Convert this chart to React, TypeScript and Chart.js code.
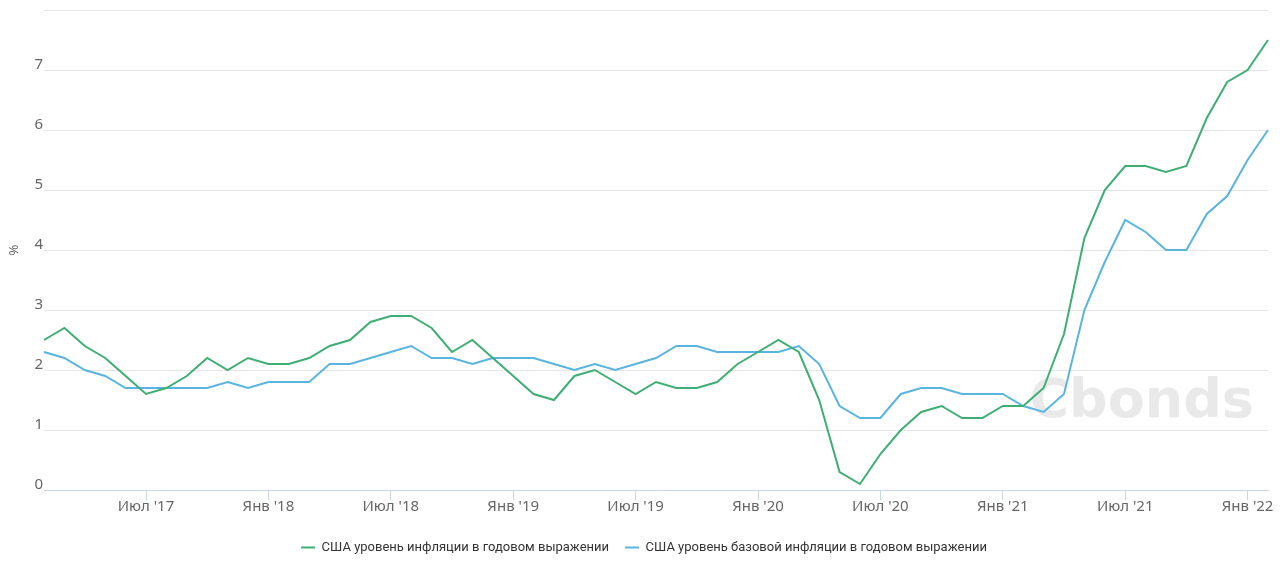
import React, { useEffect, useRef } from "react";
import { Chart, registerables } from "chart.js";

Chart.register(...registerables);

const MONTHS = ["Янв", "Фев", "Мар", "Апр", "Май", "Июн", "Июл", "Авг", "Сен", "Окт", "Ноя", "Дек"];

// Monthly observations plotted Feb 2017 .. Feb 2022
const categories: string[] = [];
for (let i = 0; i < 61; i++) {
  const m = (1 + i) % 12;
  const y = 17 + Math.floor((1 + i) / 12);
  categories.push(`${MONTHS[m]} '${y}`);
}

const headlineCPI = [
  2.5, 2.7, 2.4, 2.2, 1.9, 1.6, 1.7, 1.9, 2.2, 2.0, 2.2, 2.1,
  2.1, 2.2, 2.4, 2.5, 2.8, 2.9, 2.9, 2.7, 2.3, 2.5, 2.2, 1.9,
  1.6, 1.5, 1.9, 2.0, 1.8, 1.6, 1.8, 1.7, 1.7, 1.8, 2.1, 2.3,
  2.5, 2.3, 1.5, 0.3, 0.1, 0.6, 1.0, 1.3, 1.4, 1.2, 1.2, 1.4,
  1.4, 1.7, 2.6, 4.2, 5.0, 5.4, 5.4, 5.3, 5.4, 6.2, 6.8, 7.0,
  7.5,
];

const coreCPI = [
  2.3, 2.2, 2.0, 1.9, 1.7, 1.7, 1.7, 1.7, 1.7, 1.8, 1.7, 1.8,
  1.8, 1.8, 2.1, 2.1, 2.2, 2.3, 2.4, 2.2, 2.2, 2.1, 2.2, 2.2,
  2.2, 2.1, 2.0, 2.1, 2.0, 2.1, 2.2, 2.4, 2.4, 2.3, 2.3, 2.3,
  2.3, 2.4, 2.1, 1.4, 1.2, 1.2, 1.6, 1.7, 1.7, 1.6, 1.6, 1.6,
  1.4, 1.3, 1.6, 3.0, 3.8, 4.5, 4.3, 4.0, 4.0, 4.6, 4.9, 5.5,
  6.0,
];

const seriesNames = [
  "США уровень инфляции в годовом выражении",
  "США уровень базовой инфляции в годовом выражении",
];

const watermark = {
  id: "watermark",
  beforeDatasetsDraw(chart: any) {
    const { ctx } = chart;
    ctx.save();
    ctx.fillStyle = "#e9e9e9";
    ctx.font = "bold 54px 'DejaVu Sans', sans-serif";
    ctx.textAlign = "right";
    ctx.textBaseline = "alphabetic";
    ctx.fillText("Cbonds", 1254, 417);
    ctx.restore();
  },
};

const tickFont = { family: "'Noto Sans', sans-serif", size: 15 };

export default function App() {
  const ref = useRef<HTMLCanvasElement>(null);
  useEffect(() => {
    if (!ref.current) return;
    const chart = new Chart(ref.current, {
      type: "line",
      data: {
        labels: categories,
        datasets: [
          {
            label: seriesNames[0],
            data: headlineCPI,
            borderColor: "#3fae74",
            backgroundColor: "#3fae74",
            borderWidth: 2,
            pointRadius: 0,
            tension: 0,
          },
          {
            label: seriesNames[1],
            data: coreCPI,
            borderColor: "#5ab4e0",
            backgroundColor: "#5ab4e0",
            borderWidth: 2,
            pointRadius: 0,
            tension: 0,
          },
        ],
      },
      plugins: [watermark],
      options: {
        responsive: false,
        animation: false,
        layout: { padding: { top: 8, right: 12, left: 20, bottom: 14 } },
        plugins: {
          legend: {
            position: "bottom",
            labels: {
              usePointStyle: true,
              pointStyle: "line",
              pointStyleWidth: 14,
              color: "#333",
              font: { family: "Roboto", size: 13 },
              padding: 16,
            },
          },
          tooltip: { enabled: false },
        },
        scales: {
          x: {
            offset: false,
            grid: {
              drawOnChartArea: false,
              drawTicks: true,
              tickLength: 10,
              color: "#ccd6eb",
            },
            border: { color: "#ccd6eb" },
            ticks: {
              autoSkip: false,
              maxRotation: 0,
              color: "#666",
              font: tickFont,
              padding: -2,
              callback: function (_v: any, i: number) {
                const lab = categories[i];
                if (lab.startsWith("Янв") || lab.startsWith("Июл")) return lab;
                return null;
              },
            },
            afterFit: (s: any) => {
              s.height = 35;
            },
          },
          y: {
            min: 0,
            max: 8,
            grid: { color: "#e6e6e6", drawTicks: false },
            border: { display: false },
            ticks: {
              stepSize: 1,
              color: "#666",
              font: tickFont,
              padding: 1,
              labelOffset: -5,
              callback: (v: any) => (v === 8 ? "" : String(v)),
            },
            title: {
              display: true,
              text: "%",
              color: "#666",
              font: { family: "'Noto Sans', sans-serif", size: 13 },
              padding: { top: -14, bottom: 0 },
            },
            afterFit: (s: any) => {
              s.width = 24;
            },
          },
        },
      },
    });
    return () => chart.destroy();
  }, []);
  return (
    <div style={{ position: "fixed", left: 0, top: 0, width: 1280, height: 578, background: "#fff" }}>
      <canvas ref={ref} width={1280} height={578} />
    </div>
  );
}
